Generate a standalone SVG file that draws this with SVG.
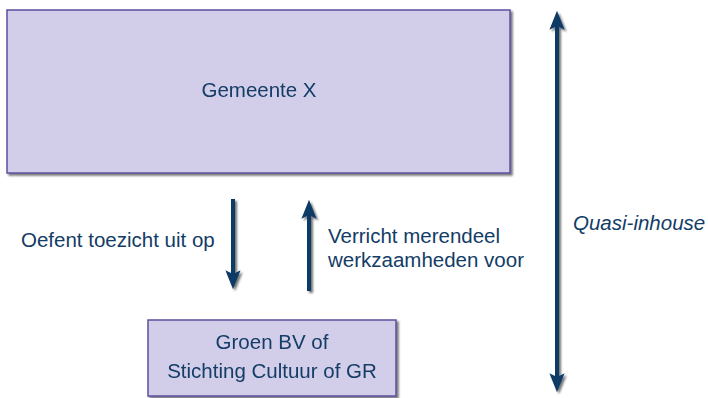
<svg xmlns="http://www.w3.org/2000/svg" width="708" height="398" viewBox="0 0 708 398">
  <defs>
    <filter id="shadow" x="-10%" y="-10%" width="120%" height="130%">
      <feGaussianBlur in="SourceAlpha" stdDeviation="1.2"/>
      <feOffset dx="2" dy="2" result="b"/>
      <feComponentTransfer><feFuncA type="linear" slope="0.55"/></feComponentTransfer>
      <feMerge><feMergeNode/><feMergeNode in="SourceGraphic"/></feMerge>
    </filter>
    <!-- arrowhead drawn pointing along +x; refX sits at the notch so the shaft ends inside the head -->
    <marker id="head" viewBox="0 0 20 16" refX="4" refY="8" markerWidth="19" markerHeight="16" markerUnits="userSpaceOnUse" orient="auto-start-reverse">
      <path d="M0,0 L20,8 L0,16 L4,8 Z" fill="#0b3a66"/>
    </marker>
  </defs>
  <style>
    .box { fill: #d2cde9; stroke: #5b4f9e; stroke-width: 1.5; }
    .lbl { font-family: "Liberation Sans", Arial, sans-serif; font-size: 20.5px; fill: #133c66; }
    .arrow { stroke: #0b3a66; stroke-width: 4; fill: none; }
  </style>

  <g id="gemeente" filter="url(#shadow)">
    <rect class="box" x="7" y="10" width="503" height="163"/>
    <text class="lbl" x="259" y="97" text-anchor="middle">Gemeente X</text>
  </g>

  <g id="groen" filter="url(#shadow)">
    <rect class="box" x="148" y="320" width="248" height="76"/>
    <text class="lbl" x="272" y="349" text-anchor="middle">Groen BV of</text>
    <text class="lbl" x="272" y="378" text-anchor="middle">Stichting Cultuur of GR</text>
  </g>

  <g id="connectors" filter="url(#shadow)">
    <line class="arrow" x1="233" y1="199" x2="233" y2="274" marker-end="url(#head)"/>
    <line class="arrow" x1="309" y1="291" x2="309" y2="215" marker-end="url(#head)"/>
    <line class="arrow" x1="557" y1="26" x2="557" y2="377" marker-start="url(#head)" marker-end="url(#head)"/>
  </g>

  <g id="labels">
    <text class="lbl" x="21" y="247">Oefent toezicht uit op</text>
    <text class="lbl" x="328" y="243">Verricht merendeel</text>
    <text class="lbl" x="328" y="267">werkzaamheden voor</text>
    <text class="lbl" x="573" y="230" font-style="italic">Quasi-inhouse</text>
  </g>
</svg>
